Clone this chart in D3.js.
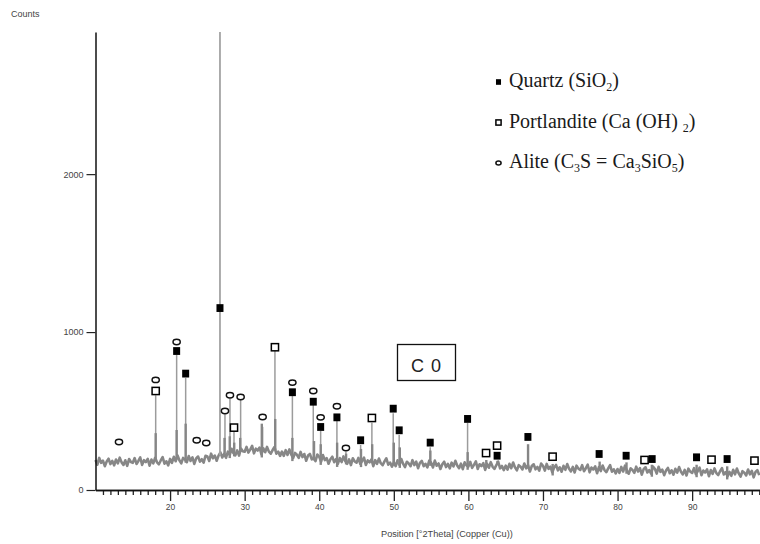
<!DOCTYPE html>
<html>
<head>
<meta charset="utf-8">
<script src="https://cdn.jsdelivr.net/npm/d3@7"></script>
<style>
  html, body { margin: 0; padding: 0; background: #fff; }
  svg { display: block; }
</style>
</head>
<body>
<script>
// ---------------- DATA ----------------
const patternStart = 10;     // 2Theta of first background sample
const patternStep = 0.25;    // 2Theta step between background samples
// Background counts (noisy baseline), 10.00 .. 99.00 °2Theta
const background = [
  190,160,203,172,186,151,181,198,164,184,156,193,169,205,175,159,188,153,196,177,
  172,202,165,184,206,159,189,177,197,154,193,169,204,175,163,187,208,167,182,156,
  197,172,210,182,219,188,169,203,193,176,215,184,206,165,200,212,180,195,173,217,
  212,184,230,201,218,185,218,238,206,229,204,243,222,261,233,220,251,218,263,246,
  242,273,237,256,279,232,262,250,269,226,264,239,273,243,230,253,272,230,243,216,
  243,216,252,222,257,224,203,235,223,204,241,208,228,185,218,228,194,207,183,225,
  210,179,221,189,202,166,195,211,176,195,166,202,177,213,182,166,194,158,201,181,
  173,203,165,184,205,158,187,175,194,151,189,165,199,170,157,181,201,160,174,148,
  176,151,188,160,196,165,145,179,168,151,189,158,179,138,172,184,151,166,143,187,
  173,143,186,154,168,133,163,179,145,165,137,173,149,185,155,138,167,132,175,156,
  148,178,140,159,181,133,163,151,170,127,166,141,176,147,134,158,179,137,152,126,
  154,129,166,138,174,143,124,157,147,130,168,137,158,117,152,163,131,146,123,167,
  153,123,165,134,148,112,142,159,124,144,116,153,128,164,134,118,146,111,154,135,
  127,157,119,138,160,112,142,130,149,106,145,120,155,126,113,137,158,116,131,105,
  133,108,146,117,154,123,103,137,127,109,148,117,139,97,132,144,111,126,104,148,
  134,104,147,115,129,94,123,140,106,125,97,134,110,145,115,99,127,92,135,116,
  108,138,101,119,141,94,123,111,131,87,126,102,137,107,95,119,139,98,113,87,
  115,90,128,99,136,105,85,119,109,92,130,99,121,80,114,126,94
];

// Diffraction peaks of the pattern: position (°2Theta) and peak counts
const peakPos    = [18.07, 20.88, 22.09, 26.69, 27.3, 28.0, 28.6, 29.4, 32.3, 34.1, 36.4, 39.3, 40.2, 42.4, 43.6, 45.6, 47.1, 50.0, 50.8, 54.9, 59.9, 62.4, 63.9, 68.0, 71.3, 77.6, 81.2, 84.6, 90.6, 94.7];
const peakCounts = [360,   380,   420,   2900,  330,  340,  300,  330,  420,  450,  330,  310,  290,  300,  230,  260,  290,  300,  270,  250,  240,  190,  185,  290,  165,  180,  175,  160,  160,  150];

// Reference sticks (thin lines up to the phase markers)
const stickPos = [18.07, 20.88, 22.09, 27.36, 28.03, 28.57, 29.46, 32.41, 34.06, 36.4, 39.2, 40.19, 42.37, 43.58, 45.55, 47.06, 49.92, 50.72, 54.88, 59.89, 67.98];
const stickTop = [600,   855,   710,   480,   580,   367,   570,   400,   880,   595,  538,  374,   437,   243,   285,   426,   486,   348,   270,   424,   285];

// Phase markers: Q = Quartz, P = Portlandite, A = Alite
const markerPos = [13.15, 18.07, 18.07, 20.88, 20.88, 22.09, 23.57, 24.85, 26.69, 27.36, 28.03, 28.57, 29.46, 32.41, 34.06, 36.4, 36.4, 39.2, 39.2, 40.19, 40.19, 42.37, 42.37, 43.58, 45.55, 47.06, 49.92, 50.72, 54.88, 59.89, 62.37, 63.85, 63.85, 67.98, 71.29, 77.53, 81.15, 83.62, 84.64, 90.59, 92.6, 94.69, 98.36];
const markerType = ["A","P","A","Q","A","Q","A","A","Q","A","A","P","A","A","P","Q","A","Q","A","Q","A","Q","A","A","Q","P","Q","Q","Q","Q","P","Q","P","Q","P","Q","Q","P","Q","Q","P","Q","P"];
const markerCounts = [304, 627, 697, 880, 937, 737, 315, 298, 1152, 500, 600, 395, 589, 462, 904, 619, 680, 559, 627, 399, 460, 460, 530, 266, 315, 456, 515, 378, 300, 450, 234, 217, 281, 336, 211, 228, 217, 190, 196, 207, 192, 196, 186];

// Axis ticks
const xMajorTicks = [20, 30, 40, 50, 60, 70, 80, 90];
const xMinorTicks = [11,12,13,14,15,16,17,18,19,21,22,23,24,25,26,27,28,29,31,32,33,34,35,36,37,38,39,41,42,43,44,45,46,47,48,49,51,52,53,54,55,56,57,58,59,61,62,63,64,65,66,67,68,69,71,72,73,74,75,76,77,78,79,81,82,83,84,85,86,87,88,89,91,92,93,94,95,96,97,98,99];
const yTicks = [0, 1000, 2000];

// Texts
const yTitle = "Counts";
const xTitle = "Position [°2Theta] (Copper (Cu))";
const sampleLabel = "C 0";

// ---------------- CHART ----------------
const W = 760, H = 544;
const svg = d3.select("body").append("svg").attr("width", W).attr("height", H);

const x = d3.scaleLinear().domain([10, 99.1]).range([95.5, 760]);
const y = d3.scaleLinear().domain([0, 2900]).range([490, 32]);

const pattern = background.map((c, i) => ({ t: patternStart + i * patternStep, c }));
const bgAt = t => background[Math.max(0, Math.min(background.length - 1, Math.round((t - patternStart) / patternStep)))];

const gPlot = svg.append("g");

// background pattern line (dense noisy band)
gPlot.append("path")
  .datum(pattern)
  .attr("fill", "none")
  .attr("stroke", "#878787")
  .attr("stroke-width", 2.6)
  .attr("stroke-linejoin", "round")
  .attr("d", d3.line().x(d => x(d.t)).y(d => y(d.c)));

// thin reference sticks
gPlot.selectAll("line.stick")
  .data(stickPos.map((p, i) => ({ p, top: stickTop[i] })))
  .join("line")
  .attr("class", "stick")
  .attr("x1", d => x(d.p)).attr("x2", d => x(d.p))
  .attr("y1", d => y(bgAt(d.p))).attr("y2", d => y(d.top))
  .attr("stroke", "#9c9c9c")
  .attr("stroke-width", 1.5);

// pattern peaks
gPlot.selectAll("line.peak")
  .data(peakPos.map((p, i) => ({ p, c: peakCounts[i] })))
  .join("line")
  .attr("class", "peak")
  .attr("x1", d => x(d.p)).attr("x2", d => x(d.p))
  .attr("y1", d => y(bgAt(d.p) - 20)).attr("y2", d => y(d.c))
  .attr("stroke", d => d.c > 2000 ? "#a4a4a4" : "#868686")
  .attr("stroke-width", d => d.c > 2000 ? 1.8 : 2.4);

// markers
const markers = markerPos.map((p, i) => ({ p, type: markerType[i], c: markerCounts[i] }));
const gM = svg.append("g");
function drawMarker(g, type, cx, cy, scale) {
  const s = scale || 1;
  if (type === "Q") {
    g.append("rect").attr("x", cx - 3.5 * s).attr("y", cy - 3.9 * s)
      .attr("width", 7 * s).attr("height", 7.8 * s).attr("fill", "#000");
  } else if (type === "P") {
    g.append("rect").attr("x", cx - 3.6 * s).attr("y", cy - 3.6 * s)
      .attr("width", 7.2 * s).attr("height", 7.2 * s)
      .attr("fill", "#fff").attr("stroke", "#000").attr("stroke-width", 1.5);
  } else {
    g.append("ellipse").attr("cx", cx).attr("cy", cy)
      .attr("rx", 3.6 * s).attr("ry", 2.7 * s)
      .attr("fill", "#fff").attr("stroke", "#111").attr("stroke-width", 1.5);
  }
}
markers.forEach(m => drawMarker(gM, m.type, x(m.p), y(m.c), 1));

// sample label box
const box = svg.append("g");
box.append("rect").attr("x", 397.5).attr("y", 344.5).attr("width", 58).attr("height", 36)
  .attr("fill", "#fff").attr("stroke", "#111").attr("stroke-width", 1.3);
box.append("text").attr("x", 426.5).attr("y", 366.8).attr("text-anchor", "middle")
  .attr("dominant-baseline", "middle")
  .style("font-family", "'Liberation Sans', Arial, sans-serif").style("font-size", "18px")
  .style("letter-spacing", "1px").attr("fill", "#222").text(sampleLabel);

// legend
const legend = svg.append("g")
  .style("font-family", "'Liberation Serif', 'Times New Roman', serif")
  .style("font-size", "20px").attr("fill", "#1a1a1a");
const legendRows = [
  { type: "Q", y: 87, parts: [["Quartz (SiO", 0], ["2", 1], [")", 0]] },
  { type: "P", y: 127.5, parts: [["Portlandite (Ca (OH) ", 0], ["2", 1], [")", 0]] },
  { type: "A", y: 168, parts: [["Alite (C", 0], ["3", 1], ["S = Ca", 0], ["3", 1], ["SiO", 0], ["5", 1], [")", 0]] }
];
legendRows.forEach(r => {
  drawMarker(legend, r.type, 498.5, r.y - 5, 0.72);
  const t = legend.append("text").attr("x", 509).attr("y", r.y);
  r.parts.forEach(([s, sub], i) => {
    const prevSub = i > 0 && r.parts[i - 1][1] === 1;
    const ts = t.append("tspan").text(s).attr("dy", sub ? 4 : (prevSub ? -4 : 0));
    if (sub) ts.style("font-size", "12px");
  });
});

// axes
const axisFont = "'Liberation Sans', Arial, sans-serif";
const xAxisMajor = d3.axisBottom(x).tickValues(xMajorTicks).tickSize(11).tickSizeOuter(0).tickPadding(3).tickFormat(d3.format("d"));
const xAxisMinor = d3.axisBottom(x).tickValues(xMinorTicks).tickSize(5).tickSizeOuter(0).tickFormat("");
const gxMinor = svg.append("g").attr("transform", "translate(0,490)").call(xAxisMinor);
const gx = svg.append("g").attr("transform", "translate(0,490)").call(xAxisMajor);
[gx, gxMinor].forEach(g => {
  g.selectAll("path").attr("stroke", "#111").attr("stroke-width", 1.4);
  g.selectAll("line").attr("stroke", "#222").attr("stroke-width", 1.3);
});
gx.selectAll("text").style("font-family", axisFont).style("font-size", "8.5px").attr("fill", "#444");

const yAxis = d3.axisLeft(y).tickValues(yTicks).tickSize(9).tickSizeOuter(0).tickPadding(3).tickFormat(d3.format("d"));
const gy = svg.append("g").attr("transform", "translate(95.5,0)").call(yAxis);
gy.selectAll("path").attr("stroke", "#111").attr("stroke-width", 1.5);
gy.selectAll("line").attr("stroke", "#222").attr("stroke-width", 1.2);
gy.selectAll("text").style("font-family", axisFont).style("font-size", "9px").attr("fill", "#444");

// titles
svg.append("text").attr("x", 11).attr("y", 17)
  .style("font-family", axisFont).style("font-size", "9px").attr("fill", "#444").text(yTitle);
svg.append("text").attr("x", 381).attr("y", 537)
  .style("font-family", axisFont).style("font-size", "9.2px").attr("fill", "#444").text(xTitle);
</script>
</body>
</html>
